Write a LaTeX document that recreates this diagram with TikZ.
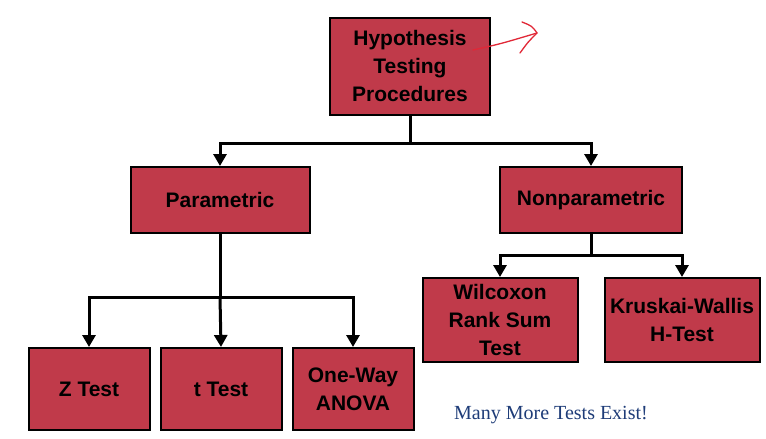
\documentclass[tikz,border=0pt]{standalone}
\usepackage{fontspec}
\setmainfont{Liberation Sans}
\newfontfamily\noteserif{Liberation Serif}
\usetikzlibrary{arrows.meta,backgrounds}

\definecolor{boxred}{RGB}{192,58,74}
\definecolor{notered}{RGB}{225,40,55}
\definecolor{noteblue}{RGB}{30,60,120}

\begin{document}
\begin{tikzpicture}
  [
    x = 1pt, y = -1pt,
    show background rectangle,
    background rectangle/.style = {fill=white},
    testbox/.style = {draw, line width=2pt, fill=boxred, align=center,
                      inner sep=0pt, font=\fontsize{21}{28}\selectfont\bfseries},
    branch/.style = {line width=3pt},
    > = {Triangle[length=12pt,width=13pt]},
  ]

  \useasboundingbox (0,0) rectangle (766,439);

  \node[testbox, minimum width=160pt, minimum height=97pt] (hyp)    at (410,66)  {Hypothesis\\Testing\\Procedures};
  \node[testbox, minimum width=179pt, minimum height=66pt] (param)  at (220,200) {Parametric};
  \node[testbox, minimum width=182pt, minimum height=66pt] (nonpar) at (591,200) {Nonparametric};

  \node[testbox, minimum width=155pt, minimum height=84pt] (wilcox)  at (500,320) {Wilcoxon\\Rank Sum\\Test};
  \node[testbox, minimum width=155pt, minimum height=84pt] (kruskal) at (682,320) {Kruskai-Wallis\\H-Test};

  \node[testbox, minimum width=121pt, minimum height=82pt] (ztest) at (89,389)  {Z Test};
  \node[testbox, minimum width=121pt, minimum height=82pt] (ttest) at (221,389) {t Test};
  \node[testbox, minimum width=121pt, minimum height=82pt] (anova) at (353,389) {One-Way\\ANOVA};

  \coordinate (hypsplit)    at (410,143);
  \coordinate (paramsplit)  at (220,297);
  \coordinate (nonparsplit) at (591,255);

  \draw [branch] (hyp.south) -- (hypsplit);
  \draw [branch, ->] (hypsplit) -| (param.north);
  \draw [branch, ->] (hypsplit) -| (nonpar.north);

  \draw [branch] (param.south) -- (paramsplit);
  \draw [branch, ->] (paramsplit) -| (ztest.north);
  \draw [branch, ->] (paramsplit) -- (ttest.north);
  \draw [branch, ->] (paramsplit) -| (anova.north);

  \draw [branch] (nonpar.south) -- (nonparsplit);
  \draw [branch, ->] (nonparsplit) -| (wilcox.north);
  \draw [branch, ->] (nonparsplit) -| (kruskal.north);

  % hand-drawn pen mark
  \coordinate (penstart) at (473,50);
  \coordinate (pentip)   at (537,33);
  \draw [notered, line width=1.3pt, line cap=round, line join=round]
    (penstart) .. controls (500,44) .. (pentip);
  \draw [notered, line width=1.3pt, line cap=round, line join=round]
    (522,22) .. controls (532,26) .. (pentip) .. controls (528,42) .. (520,53);

  \node[font=\noteserif\fontsize{20}{24}\selectfont, text=noteblue] (more) at (551,415) {Many More Tests Exist!};

\end{tikzpicture}
\end{document}
